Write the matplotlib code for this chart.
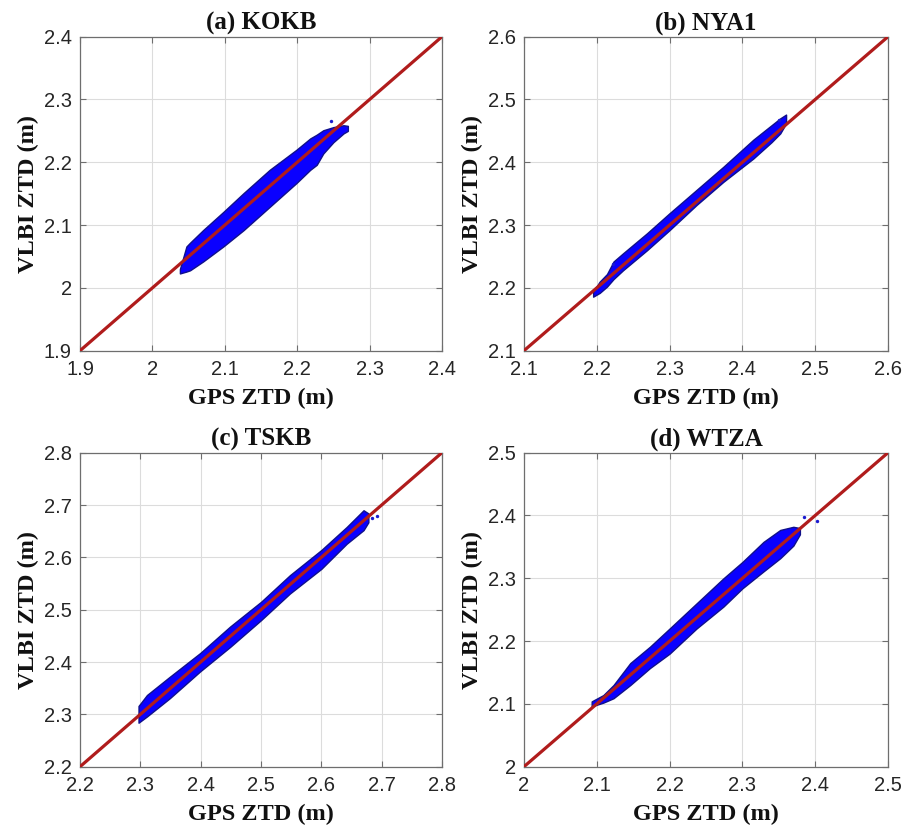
import matplotlib
matplotlib.use("Agg")
import matplotlib.pyplot as plt

# ---------------- data ----------------
titles = ["(a) KOKB", "(b) NYA1", "(c) TSKB", "(d) WTZA"]
limits = [(1.9, 2.4), (2.1, 2.6), (2.2, 2.8), (2.0, 2.5)]
ticks = [
    [1.9, 2.0, 2.1, 2.2, 2.3, 2.4],
    [2.1, 2.2, 2.3, 2.4, 2.5, 2.6],
    [2.2, 2.3, 2.4, 2.5, 2.6, 2.7, 2.8],
    [2.0, 2.1, 2.2, 2.3, 2.4, 2.5],
]
tick_labels = [
    ["1.9", "2", "2.1", "2.2", "2.3", "2.4"],
    ["2.1", "2.2", "2.3", "2.4", "2.5", "2.6"],
    ["2.2", "2.3", "2.4", "2.5", "2.6", "2.7", "2.8"],
    ["2", "2.1", "2.2", "2.3", "2.4", "2.5"],
]

# envelope of the dense point clouds (GPS ZTD, lower / upper VLBI ZTD)
kokb_x = [2.038, 2.047, 2.052, 2.070, 2.098, 2.126, 2.162, 2.199, 2.218, 2.227, 2.236, 2.250, 2.264, 2.270]
kokb_lo = [2.023, 2.026, 2.028, 2.042, 2.066, 2.092, 2.129, 2.167, 2.188, 2.196, 2.214, 2.232, 2.246, 2.250]
kokb_hi = [2.030, 2.066, 2.072, 2.092, 2.121, 2.151, 2.188, 2.220, 2.238, 2.244, 2.251, 2.256, 2.259, 2.258]

nya1_x = [2.195, 2.204, 2.214, 2.223, 2.236, 2.269, 2.300, 2.337, 2.374, 2.415, 2.440, 2.452, 2.460]
nya1_lo = [2.186, 2.192, 2.202, 2.214, 2.228, 2.260, 2.292, 2.332, 2.369, 2.406, 2.432, 2.446, 2.462]
nya1_hi = [2.194, 2.210, 2.222, 2.242, 2.255, 2.287, 2.319, 2.356, 2.393, 2.436, 2.459, 2.470, 2.476]

tskb_x = [2.297, 2.311, 2.349, 2.399, 2.449, 2.500, 2.548, 2.600, 2.642, 2.670, 2.678]
tskb_lo = [2.284, 2.296, 2.331, 2.382, 2.429, 2.480, 2.531, 2.578, 2.626, 2.652, 2.667]
tskb_hi = [2.316, 2.337, 2.372, 2.417, 2.468, 2.515, 2.566, 2.614, 2.658, 2.690, 2.684]

wtza_x = [2.093, 2.109, 2.123, 2.146, 2.173, 2.200, 2.237, 2.274, 2.300, 2.329, 2.352, 2.370, 2.379]
wtza_lo = [2.096, 2.102, 2.109, 2.130, 2.157, 2.180, 2.220, 2.255, 2.284, 2.311, 2.332, 2.352, 2.370]
wtza_hi = [2.104, 2.114, 2.130, 2.165, 2.191, 2.220, 2.260, 2.300, 2.326, 2.358, 2.377, 2.382, 2.380]

# isolated points outside the main cloud
out_x = [[2.247], [2.222, 2.450], [2.692, 2.684], [2.384, 2.402]]
out_y = [[2.265], [2.238, 2.468], [2.679, 2.676], [2.398, 2.392]]

clouds = [(kokb_x, kokb_lo, kokb_hi), (nya1_x, nya1_lo, nya1_hi),
          (tskb_x, tskb_lo, tskb_hi), (wtza_x, wtza_lo, wtza_hi)]

# ---------------- drawing ----------------
fig = plt.figure(figsize=(9.04, 8.32), dpi=100)
positions = [
    [0.0885, 0.5785, 0.4004, 0.3774],
    [0.5796, 0.5785, 0.4027, 0.3774],
    [0.0885, 0.0785, 0.4004, 0.3774],
    [0.5796, 0.0785, 0.4027, 0.3774],
]
serif = ["Liberation Serif", "DejaVu Serif"]
sans = ["Liberation Sans", "DejaVu Sans"]
axis_col = "#6e6e6e"
text_col = "#262626"

for i in range(4):
    ax = fig.add_axes(positions[i])
    lo, hi = limits[i]
    cx, clo, chi = clouds[i]
    ax.fill_between(cx, clo, chi, facecolor="#0a00ff", edgecolor="#10108a",
                    linewidth=1.0, zorder=2)
    ax.scatter(out_x[i], out_y[i], s=6, color="#1a1ad0", zorder=2, linewidths=0)
    ax.plot([lo, hi], [lo, hi], color="#b01c1c", linewidth=2.3, zorder=3)
    ax.set_xlim(lo, hi)
    ax.set_ylim(lo, hi)
    ax.set_xticks(ticks[i])
    ax.set_yticks(ticks[i])
    ax.set_xticklabels(tick_labels[i], family=sans, fontsize=14.5, color=text_col)
    ax.set_yticklabels(tick_labels[i], family=sans, fontsize=14.5, color=text_col)
    ax.grid(True, color="#dcdcdc", linewidth=0.8, zorder=0)
    ax.set_axisbelow(True)
    ax.tick_params(direction="in", length=4, width=0.8, color=axis_col,
                   top=True, right=True)
    ax.tick_params(axis="x", pad=7)
    ax.tick_params(axis="y", pad=6)
    for sp in ax.spines.values():
        sp.set_color(axis_col)
        sp.set_linewidth(0.9)
    ax.set_title(titles[i], family=serif, fontweight="bold", fontsize=18,
                 color="#111111", pad=5)
    ax.set_xlabel("GPS ZTD (m)", family=serif, fontweight="bold", fontsize=17.5,
                  color="#111111", labelpad=6)
    ax.set_ylabel("VLBI ZTD (m)", family=serif, fontweight="bold", fontsize=17.5,
                  color="#111111", labelpad=3)

fig.savefig("out.png", dpi=100)
